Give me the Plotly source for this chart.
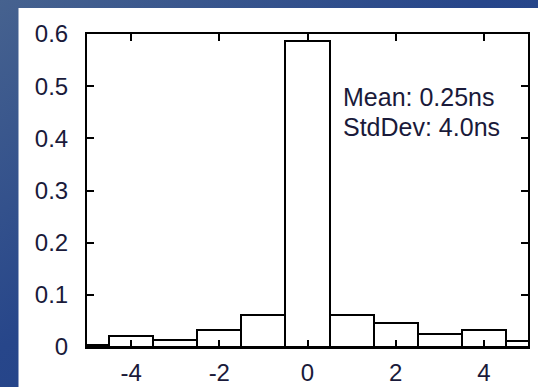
import base64
import plotly.graph_objects as go

# Data
bin_centers = [-5, -4, -3, -2, -1, 0, 1, 2, 3, 4, 5]
fractions = [0.003, 0.0205, 0.0125, 0.032, 0.062, 0.587, 0.062, 0.046, 0.024, 0.032, 0.012]
x_ticks = [-4, -2, 0, 2, 4]
y_ticks = [0, 0.1, 0.2, 0.3, 0.4, 0.5, 0.6]
y_tick_labels = ["0", "0.1", "0.2", "0.3", "0.4", "0.5", "0.6"]
stats_lines = ["Mean: 0.25ns", "StdDev: 4.0ns"]

W, H = 538, 387
L, R, T, B = 87, 10, 34, 40
pw, ph = W - L - R, H - T - B

svg = f'''<svg xmlns="http://www.w3.org/2000/svg" width="{W}" height="{H}" viewBox="0 0 {W} {H}" preserveAspectRatio="none">
<defs><linearGradient id="g" x1="0" y1="0" x2="1" y2="1">
<stop offset="0" stop-color="#46628f"/><stop offset="0.45" stop-color="#27468a"/><stop offset="1" stop-color="#1d3d88"/>
</linearGradient></defs>
<rect x="0" y="0" width="{W}" height="{H}" fill="url(#g)"/>
<rect x="18.5" y="8" width="{W}" height="{H}" fill="#ffffff"/>
</svg>'''
src = "data:image/svg+xml;base64," + base64.b64encode(svg.encode()).decode()

fig = go.Figure()
fig.add_trace(go.Bar(
    x=bin_centers, y=fractions, width=1,
    marker=dict(color="white", line=dict(color="black", width=2)),
    showlegend=False, hoverinfo="skip",
))

font = dict(family="Liberation Sans, Arial, sans-serif", size=24, color="#1a1a3a")

fig.update_layout(
    width=W, height=H,
    margin=dict(l=L, r=R, t=T, b=B, pad=0, autoexpand=False),
    paper_bgcolor="#27468a",
    plot_bgcolor="rgba(0,0,0,0)",
    font=font,
    bargap=0,
    images=[dict(source=src, xref="paper", yref="paper",
                 x=-L / pw, y=1 + T / ph, sizex=W / pw, sizey=H / ph,
                 xanchor="left", yanchor="top", sizing="stretch", layer="below")],
    xaxis=dict(range=[-5, 5], tickvals=x_ticks, ticktext=[str(v) for v in x_ticks],
               ticks="inside", ticklen=7, tickwidth=2, tickcolor="black",
               showline=True, linecolor="black", linewidth=2, mirror="ticks",
               showgrid=False, zeroline=False, ticklabelstandoff=3,
               automargin=False, tickfont=font),
    yaxis=dict(range=[0, 0.6], tickvals=y_ticks, ticktext=y_tick_labels,
               ticks="inside", ticklen=7, tickwidth=2, tickcolor="black",
               showline=True, linecolor="black", linewidth=2, mirror="ticks",
               showgrid=False, zeroline=False, ticklabelstandoff=12,
               automargin=False, tickfont=font),
)

for i, line in enumerate(stats_lines):
    fig.add_annotation(text=line, xref="x", yref="paper",
                       x=0.75, y=(H - B - (96.5 + 30 * i)) / ph,
                       xanchor="left", yanchor="middle", showarrow=False,
                       font=dict(family="Liberation Sans, Arial, sans-serif", size=25, color="#1a1a3a"))

fig.write_html("out.html", config={"displayModeBar": False},
               post_script="document.body.style.margin='0';document.body.style.overflow='hidden';")
